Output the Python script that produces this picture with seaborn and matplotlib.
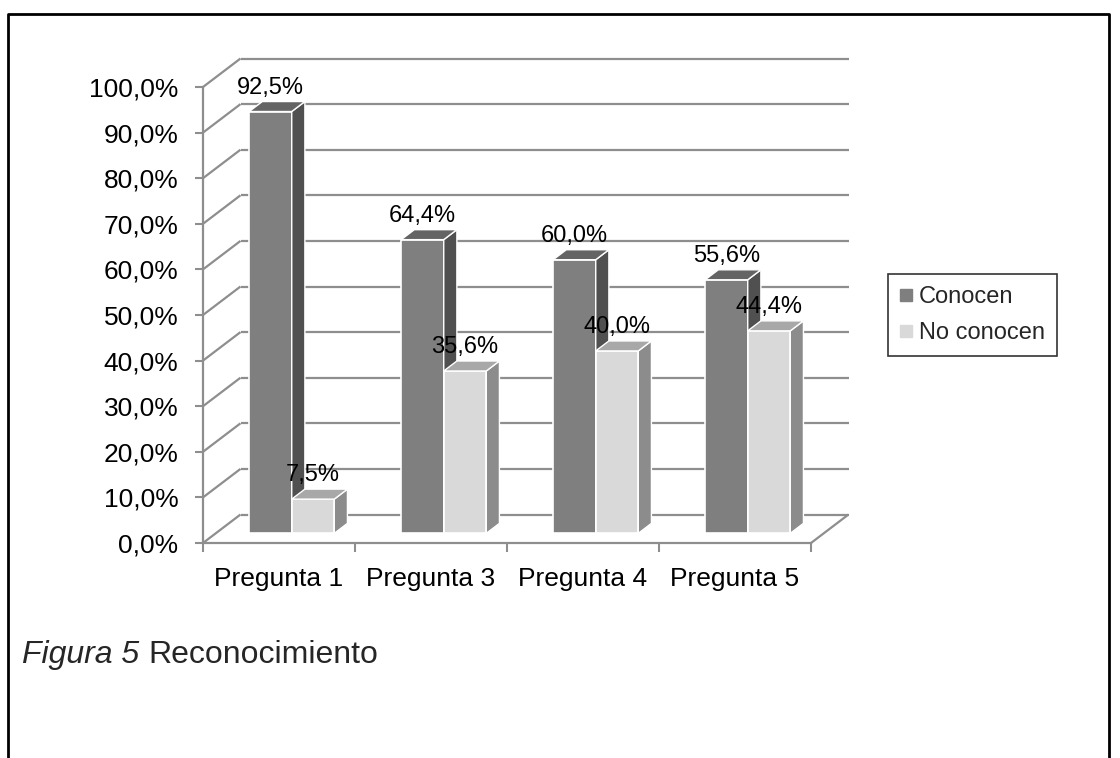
import numpy as np
import pandas as pd
import matplotlib
matplotlib.use("Agg")
import matplotlib.pyplot as plt
from matplotlib.patches import Polygon
from matplotlib.lines import Line2D
from matplotlib.transforms import Affine2D, IdentityTransform
import seaborn as sns

# ---- data ----
preguntas = ["Pregunta 1", "Pregunta 3", "Pregunta 4", "Pregunta 5"]
series = ["Conocen", "No conocen"]
conocen = [92.5, 64.4, 60.0, 55.6]
no_conocen = [7.5, 35.6, 40.0, 44.4]
y_ticks = [0, 10, 20, 30, 40, 50, 60, 70, 80, 90, 100]
caption_italic = "Figura 5"
caption_text = "Reconocimiento"

values = {"Conocen": conocen, "No conocen": no_conocen}
df = pd.DataFrame({
    "Pregunta": preguntas * 2,
    "Serie": [series[0]] * len(preguntas) + [series[1]] * len(preguntas),
    "Valor": conocen + no_conocen,
})

def pct(v):
    return f"{v:.1f}%".replace(".", ",")

# ---- style ----
front_colors = {"Conocen": "#7f7f7f", "No conocen": "#d9d9d9"}
side_colors = {"Conocen": "#505050", "No conocen": "#8c8c8c"}
top_colors = {"Conocen": "#646464", "No conocen": "#a8a8a8"}
grid_color = "#8e8e8e"

W, H, DPI = 1120, 758, 100
sns.set_theme(style="white")
plt.rcParams["font.family"] = ["Liberation Sans", "DejaVu Sans"]

fig = plt.figure(figsize=(W / DPI, H / DPI), dpi=DPI, facecolor="white")

# axes = front plane of the 3-D box (pixel geometry)
fx0, fx1, fyb, fyt = 203, 811, 543, 87
ax = fig.add_axes([fx0 / W, 1 - fyb / H, (fx1 - fx0) / W, (fyb - fyt) / H])
ax.patch.set_visible(False)

sns.barplot(data=df, x="Pregunta", y="Valor", hue="Serie", order=preguntas,
            hue_order=series, palette=front_colors, saturation=1, width=0.56,
            edgecolor="white", linewidth=1.2, errorbar=None, legend=False, ax=ax)
ax.set_xlim(-0.5, len(preguntas) - 0.5)
ax.set_ylim(0, 100)
ax.set_xlabel("")
ax.set_ylabel("")

# oblique depth vector (display pixels), bar placement inside the depth
D = np.array([37.5, 28.5])
f_front, f_depth = 0.34, 0.35

def P(x, y, d):
    return ax.transData.transform((x, y)) + d * D

def seg(p, q, z=0.5):
    ln = Line2D([p[0], q[0]], [p[1], q[1]], transform=IdentityTransform(),
                color=grid_color, lw=1.6, zorder=z, clip_on=False,
                solid_capstyle="butt")
    ax.add_artist(ln)

xl, xr = ax.get_xlim()
# back wall gridlines and left-wall diagonals
for v in y_ticks:
    seg(P(xl, v, 1), P(xr, v, 1))
    seg(P(xl, v, 0), P(xl, v, 1))
# floor right edge
seg(P(xr, 0, 0), P(xr, 0, 1))

# bars: shift front faces into depth and add side / top faces
n = len(preguntas)
for i, p in enumerate(ax.patches[: 2 * n]):
    s = series[i // n]
    z = 2 + i // n
    p.set_transform(ax.transData + Affine2D().translate(*(f_front * D)))
    p.set_clip_on(False)
    p.set_zorder(z)
    bx, bw, bh = p.get_x(), p.get_width(), p.get_height()
    side = [P(bx + bw, 0, f_front), P(bx + bw, bh, f_front),
            P(bx + bw, bh, f_front + f_depth), P(bx + bw, 0, f_front + f_depth)]
    top = [P(bx, bh, f_front), P(bx + bw, bh, f_front),
           P(bx + bw, bh, f_front + f_depth), P(bx, bh, f_front + f_depth)]
    for pts, col in ((side, side_colors[s]), (top, top_colors[s])):
        ax.add_artist(Polygon(pts, closed=True, transform=IdentityTransform(),
                              facecolor=col, edgecolor="white", lw=1.0,
                              zorder=z, clip_on=False))

# data labels
px2pt = 72 / DPI
for k, s in enumerate(series):
    for j, v in enumerate(values[s]):
        p = ax.patches[k * n + j]
        cx = p.get_x() + p.get_width() / 2
        ax.annotate(pct(v), xy=(cx, v),
                    xytext=(f_front * D[0] * px2pt, (f_front * D[1] + 24) * px2pt),
                    textcoords="offset points", ha="center", va="center",
                    fontsize=17, color="black", zorder=10, annotation_clip=False)

# axes, ticks
sns.despine(ax=ax, top=True, right=True)
for sp in ("left", "bottom"):
    ax.spines[sp].set_color(grid_color)
    ax.spines[sp].set_linewidth(1.6)
ax.set_yticks(y_ticks, [pct(v) for v in y_ticks])
ax.set_xticks(range(n), preguntas)
ax.set_xticks(np.arange(-0.5, n, 1.0), minor=True)
ax.tick_params(axis="y", left=True, length=5.8, width=1.5, color=grid_color,
               pad=12, labelsize=19, labelcolor="black")
ax.tick_params(axis="x", which="major", bottom=True, length=0, pad=17,
               labelsize=19, labelcolor="black")
ax.tick_params(axis="x", which="minor", bottom=True, length=6.5, width=1.5,
               color=grid_color)

# legend
handles = [Line2D([], [], marker="s", ls="none", markersize=8,
                  markerfacecolor=front_colors[s], markeredgecolor=front_colors[s])
           for s in series]
leg = fig.legend(handles, series, loc="upper left",
                 bbox_to_anchor=(888 / W, 1 - 274 / H), frameon=True,
                 fancybox=False, edgecolor="black", fontsize=17,
                 handlelength=0.5, handletextpad=0.3, borderpad=0.5,
                 labelspacing=0.6, borderaxespad=0)
leg.get_frame().set_linewidth(1.2)

# caption
cap_y = 1 - 655 / H
t1 = fig.text(22 / W, cap_y, caption_italic, fontsize=23, style="italic",
              va="center", ha="left")
renderer = fig.canvas.get_renderer()
bb = t1.get_window_extent(renderer)
fig.text((bb.x1 + 0.278 * 23 / px2pt) / W, cap_y, caption_text, fontsize=23,
         va="center", ha="left")

# page frame
bx = np.array([8, 8, 1109, 1109]) / W
by = 1 - np.array([H, 14, 14, H]) / H
fig.add_artist(Line2D(bx, by, transform=fig.transFigure, color="black", lw=2.0))

fig.savefig("out.png", dpi=DPI, facecolor="white")
